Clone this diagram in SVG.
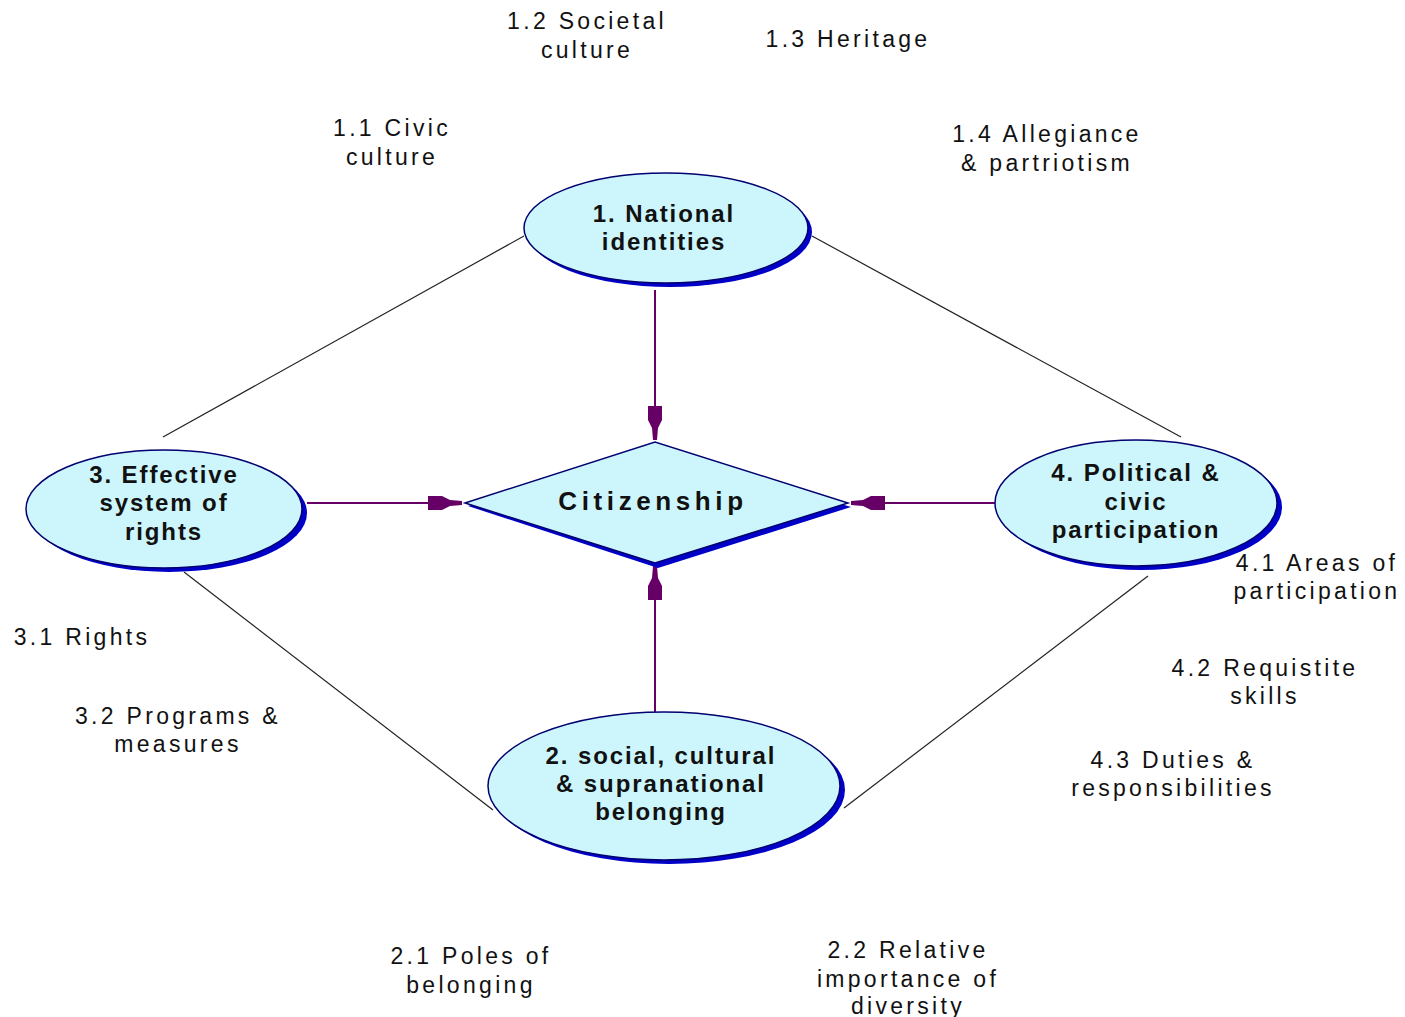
<svg xmlns="http://www.w3.org/2000/svg" width="1405" height="1017" viewBox="0 0 1405 1017">
<style>
.lbl{font-family:"Liberation Sans",Arial,sans-serif;font-size:23px;letter-spacing:3.3px;fill:#111;text-anchor:middle}
.nt{font-family:"Liberation Sans",Arial,sans-serif;font-size:24px;font-weight:bold;letter-spacing:1.9px;fill:#111;text-anchor:middle}
.sh{fill:#0000c8}
.main{fill:#cdf6fc;stroke:#000070;stroke-width:1.5}
.conn{stroke:#222;stroke-width:1.2;fill:none}
.arr{stroke:#660066;stroke-width:2;fill:none;marker-end:url(#ah)}
</style>
<defs>
<marker id="ah" markerUnits="userSpaceOnUse" markerWidth="40" markerHeight="20" viewBox="-36 -10 40 20" refX="0" refY="0" orient="auto">
<path d="M-34,-7 L-20,-7 L-12,-3 L0,-2 L0,2 L-12,3 L-20,7 L-34,7 Z" fill="#660066"/>
</marker>
</defs>
<rect width="1405" height="1017" fill="#fff"/>
<g id="connectors">
<line class="conn" x1="524" y1="236" x2="163" y2="437"/>
<line class="conn" x1="812" y1="236" x2="1181" y2="437"/>
<line class="conn" x1="184" y1="572" x2="493" y2="810"/>
<line class="conn" x1="1148" y1="576" x2="844" y2="808"/>
<line class="arr" x1="655" y1="290" x2="655" y2="440"/>
<line class="arr" x1="307" y1="503" x2="462" y2="503"/>
<line class="arr" x1="995" y1="503" x2="851" y2="503"/>
<line class="arr" x1="655" y1="712" x2="655" y2="566"/>
</g>
<g id="citizenship">
<polygon class="sh" points="468,506 658,447 851,507 658,568"/>
<polygon class="main" points="465,503 655,442 848,503 655,563"/>
<text x="653" y="510" font-family="Liberation Sans,Arial,sans-serif" font-size="26" font-weight="bold" letter-spacing="4.6" text-anchor="middle" fill="#111">Citizenship</text>
</g>
<g id="node1">
<ellipse class="sh" cx="670" cy="232" rx="142" ry="55"/>
<ellipse class="main" cx="666" cy="228" rx="142" ry="55"/>
<text class="nt" x="664" y="222">1. National</text>
<text class="nt" x="664" y="250">identities</text>
</g>
<g id="node3">
<ellipse class="sh" cx="169" cy="513" rx="138" ry="59"/>
<ellipse class="main" cx="164" cy="509" rx="138" ry="59"/>
<text class="nt" x="164" y="483">3. Effective</text>
<text class="nt" x="164" y="511">system of</text>
<text class="nt" x="164" y="540">rights</text>
</g>
<g id="node4">
<ellipse class="sh" cx="1141" cy="507" rx="141" ry="63"/>
<ellipse class="main" cx="1136" cy="503" rx="141" ry="63"/>
<text class="nt" x="1136" y="481">4. Political &amp;</text>
<text class="nt" x="1136" y="510">civic</text>
<text class="nt" x="1136" y="538">participation</text>
</g>
<g id="node2">
<ellipse class="sh" cx="669" cy="790" rx="176" ry="74"/>
<ellipse class="main" cx="664" cy="786" rx="176" ry="74"/>
<text class="nt" x="661" y="764">2. social, cultural</text>
<text class="nt" x="661" y="792">&amp; supranational</text>
<text class="nt" x="661" y="820">belonging</text>
</g>
<g id="labels">
<text class="lbl" x="587" y="29">1.2 Societal</text>
<text class="lbl" x="587" y="58">culture</text>
<text class="lbl" x="848" y="47">1.3 Heritage</text>
<text class="lbl" x="392" y="136">1.1 Civic</text>
<text class="lbl" x="392" y="165">culture</text>
<text class="lbl" x="1047" y="142">1.4 Allegiance</text>
<text class="lbl" x="1047" y="171">&amp; partriotism</text>
<text class="lbl" x="82" y="645">3.1 Rights</text>
<text class="lbl" x="178" y="724">3.2 Programs &amp;</text>
<text class="lbl" x="178" y="752">measures</text>
<text class="lbl" x="1317" y="571">4.1 Areas of</text>
<text class="lbl" x="1317" y="599">participation</text>
<text class="lbl" x="1265" y="676">4.2 Requistite</text>
<text class="lbl" x="1265" y="704">skills</text>
<text class="lbl" x="1173" y="768">4.3 Duties &amp;</text>
<text class="lbl" x="1173" y="796">responsibilities</text>
<text class="lbl" x="471" y="964">2.1 Poles of</text>
<text class="lbl" x="471" y="993">belonging</text>
<text class="lbl" x="908" y="958">2.2 Relative</text>
<text class="lbl" x="908" y="987">importance of</text>
<text class="lbl" x="908" y="1014">diversity</text>
</g>
</svg>
